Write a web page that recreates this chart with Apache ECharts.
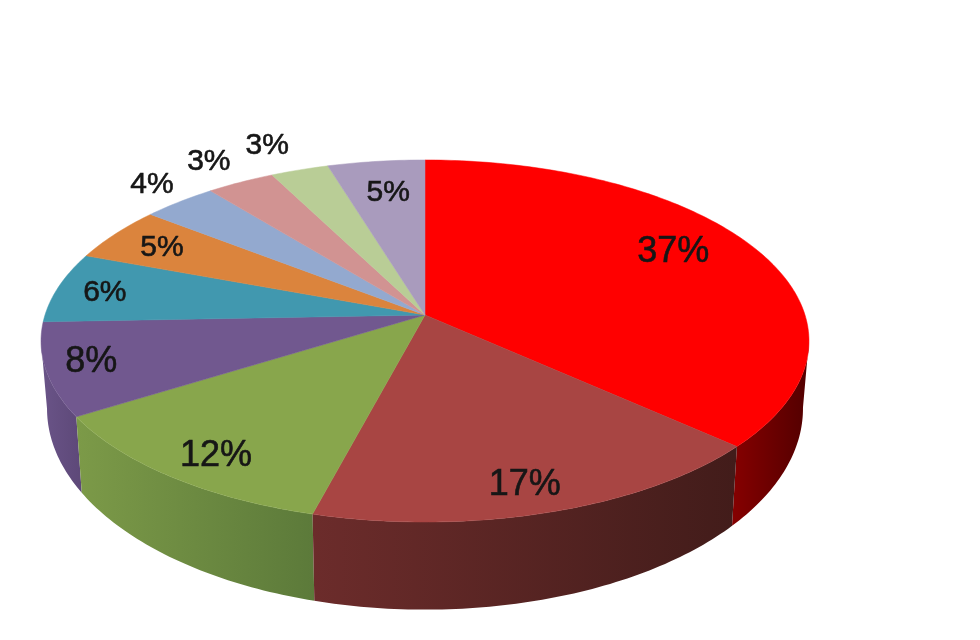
<!DOCTYPE html>
<html>
<head>
<meta charset="utf-8">
<style>
  html, body { margin: 0; background: #fff; }
  #chart { width: 980px; height: 640px; }
  #chart canvas { filter: blur(0.7px); }
</style>
</head>
<body>
<div id="chart"></div>
<script src="https://cdn.jsdelivr.net/npm/echarts@6/dist/echarts.min.js"></script>
<script>
// percentages, clockwise from 12 o'clock (read from the slice edges, labels show them rounded)
const shares = [36.7, 17.4, 12, 8.3, 6.3, 4.9, 3.6, 3.3, 2.8, 4.7];

const topColors = ["#ff0000", "#a84543", "#88a64c", "#71588f", "#4198af",
  "#db843d", "#93a9cf", "#d19392", "#b9cd96", "#a99bbd"];
// side wall gradient, left to right
const sideColors = [
  ["#860000", "#520000"], ["#6c2c2b", "#421c1a"], ["#7c9a48", "#5c7a3a"],
  ["#6a5488", "#5d4878"], ["#347a8c", "#2c6a7a"], ["#b06a30", "#a06028"],
  ["#7687a6", "#6a7a96"], ["#a87675", "#986a69"], ["#95a478", "#85946a"],
  ["#887c98", "#786c88"],
];
// label distance from the apex (1 = rim) and turn away from the slice middle
const labelRadius = [0.79, 0.866, 0.864, 0.883, 0.87, 0.841, 1.159, 1.193, 1.22, 0.785];
const labelTurn = [-5.3, 1.1, -1.5, 0.7, -0.1, 0, 1.4, -0.1, -1.3, 0.6];
const labelSize = [36, 36, 36, 36, 30, 30, 30, 30, 30, 30];

// the tilted disc: a circle seen in perspective
const apex = { x: 425, y: 315 };
const persp = { k: 0.1436, sx: 380, sy: 177.3 };
const topRing = { cx: 425, cy: 341, rx: 384, ry: 181 };
const baseRing = { cx: 425, cy: 408.6, rx: 378, ry: 201 };

const total = shares.reduce((a, b) => a + b, 0);
const startOf = i => shares.slice(0, i).reduce((a, b) => a + b, 0);

function project(turn, r) {
  const a = turn * Math.PI * 2;
  const u = Math.sin(a) * r;
  const v = -Math.cos(a) * r;
  const w = 1 - persp.k * v;
  return [apex.x + persp.sx * u / w, apex.y + persp.sy * v / w];
}

// same ellipse angle on the lower rim
function toBase(p) {
  const c = (p[0] - topRing.cx) / topRing.rx;
  const s = (p[1] - topRing.cy) / topRing.ry;
  return [baseRing.cx + baseRing.rx * c, baseRing.cy + baseRing.ry * s];
}

function rimPoints(i) {
  const from = startOf(i) / total;
  const to = from + shares[i] / total;
  const steps = Math.ceil(shares[i] * 4);
  const pts = [];
  for (let n = 0; n <= steps; n++) {
    pts.push(project(from + (to - from) * n / steps, 1));
  }
  return pts;
}

function renderSide(params, api) {
  const i = params.dataIndex;
  const front = rimPoints(i).filter(p => p[1] >= topRing.cy - 2);
  if (front.length < 2) return null;
  const lower = front.map(toBase).reverse();
  const mid = front[Math.floor(front.length / 2)];
  return {
    type: "polygon",
    z2: Math.round(mid[1]),
    shape: { points: front.concat(lower) },
    style: {
      fill: new echarts.graphic.LinearGradient(0, 0, 1, 0, [
        { offset: 0, color: sideColors[i][0] },
        { offset: 1, color: sideColors[i][1] },
      ]),
    },
  };
}

function renderTop(params, api) {
  const i = params.dataIndex;
  return {
    type: "polygon",
    shape: { points: [[apex.x, apex.y]].concat(rimPoints(i)) },
    style: { fill: topColors[i], stroke: topColors[i], lineWidth: 0.5 },
  };
}

function renderLabel(params, api) {
  const i = params.dataIndex;
  const value = api.value(0);
  const midTurn = (startOf(i) + value / 2) / total + labelTurn[i] / 360;
  const p = project(midTurn, labelRadius[i]);
  return {
    type: "text",
    x: p[0],
    y: p[1] + 1.5,
    style: {
      text: Math.round(value) + "%",
      fill: "#161616",
      stroke: "#161616",
      lineWidth: 0.6,
      font: labelSize[i] + 'px "Liberation Sans", Arial, sans-serif',
      align: "center",
      verticalAlign: "middle",
    },
  };
}

const chart = echarts.init(document.getElementById("chart"));
const seriesData = shares.map(v => [v]);
chart.setOption({
  animation: false,
  backgroundColor: "#fff",
  series: [
    { type: "custom", coordinateSystem: "none", z: 1, silent: true, data: seriesData, renderItem: renderSide },
    { type: "custom", coordinateSystem: "none", z: 2, silent: true, data: seriesData, renderItem: renderTop },
    { type: "custom", coordinateSystem: "none", z: 3, silent: true, data: seriesData, renderItem: renderLabel },
  ],
});
</script>
</body>
</html>
